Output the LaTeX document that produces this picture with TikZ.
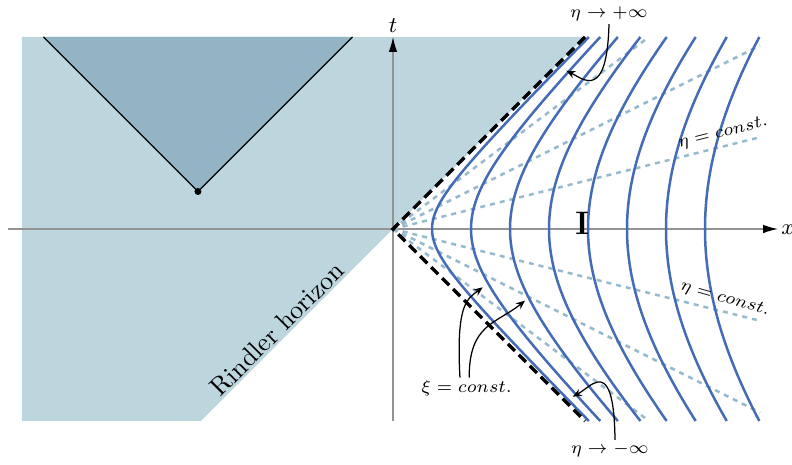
\documentclass[tikz,border=0pt]{standalone}
\usetikzlibrary{arrows.meta}
\definecolor{lightreg}{HTML}{BDD5DD}
\definecolor{darkreg}{HTML}{92B4C4}
\definecolor{curveblue}{HTML}{446CB6}
\definecolor{etablue}{HTML}{96B9CD}
\begin{document}
\begin{tikzpicture}[x=0.4pt,y=0.4pt,
  lab/.style={font=\fontsize{7.4}{9}\selectfont, inner sep=1pt},
  axislab/.style={font=\fontsize{9.5}{11}\selectfont, inner sep=1pt},
  axis/.style={draw=gray!85, line width=0.45pt, -{Latex[length=6pt,width=3.4pt,color=black]}},
  hyper/.style={draw=curveblue, line width=1pt},
  etaline/.style={draw=etablue, line width=1pt, dash pattern=on 2pt off 2pt},
  horizon/.style={draw=black, line width=1.4pt, dash pattern=on 4pt off 2.2pt, line join=miter},
  note/.style={draw=black, line width=0.5pt, -{Stealth[length=3.6pt,width=3pt]}},
]
\useasboundingbox (-393,-236) rectangle (399,229);
% shaded region t > x
\fill[lightreg] (-371,192) -- (192,192) -- (0,0) -- (-192,-192) -- (-371,-192) -- cycle;
% light cone of an event
\coordinate (ev) at (-195,37.5);
\coordinate (evl) at (-349.5,192);
\coordinate (evr) at (-40.5,192);
\fill[darkreg] (ev) -- (evl) -- (evr) -- cycle;
\draw[line width=0.5pt] (evl) -- (ev) -- (evr);
\fill (ev) circle (1.4pt);
% axes
\coordinate (xl) at (-385,0);
\coordinate (xr) at (385,0);
\coordinate (tb) at (0,-192);
\coordinate (tt) at (0,192);
\draw[axis] (xl) -- (xr);
\draw[axis] (tb) -- (tt);
\node[axislab] (tlab) at (0,203) {$t$};
\node[axislab] (xlab) at (395,-1) {$x$};
% eta = const lines
\coordinate (o) at (0,0);
\foreach \m in {0.25,0.5} {
  \draw[etaline] (o) -- (367,{367*\m});
  \draw[etaline] (o) -- (367,{-367*\m});
}
\draw[etaline] (o) -- (256,192);
\draw[etaline] (o) -- (256,-192);
% xi = const hyperbolas
\foreach \k in {1,...,8} {
  \pgfmathsetmacro\q{39*\k}
  \draw[hyper] plot[domain=-192:192, samples=97, smooth, variable=\vv] ({\q*sqrt(1+(\vv/\q)^2)}, \vv);
}
% Rindler horizon
\coordinate (hu) at (192,192);
\coordinate (hd) at (192,-192);
\draw[horizon] (hu) -- (o) -- (hd);
% labels
\node[font=\fontsize{13}{15}\selectfont\bfseries, inner sep=0pt] (reg) at (189.2,6) {I};
\node[font=\fontsize{10.4}{12}\selectfont, rotate=45] (rh) at (-116,-100) {Rindler horizon};
\node[lab, rotate=14] (etau) at (330,96) {$\eta = const.$};
\node[lab, rotate=-16] (etad) at (332,-70) {$\eta = const.$};
\node[lab] (etap) at (216,215) {$\eta\to+\infty$};
\node[lab] (etam) at (217,-221) {$\eta\to-\infty$};
\node[lab] (xil) at (73.7,-159.3) {$\xi = const.$};
% annotation arrows
\coordinate (etaptip) at (173.3,158.3);
\coordinate (etamtip) at (179.7,-167.7);
\coordinate (xitipa) at (89.7,-58.3);
\coordinate (xitipb) at (132,-71.7);
\draw[note] (etap.south) .. controls (214,128) and (190,150) .. (etaptip);
\draw[note] ([xshift=2pt]etam.north) .. controls (221,-125) and (198,-158) .. (etamtip);
\draw[note] ([xshift=-2.7pt]xil.north) .. controls (63,-75) and (74,-70) .. (xitipa);
\draw[note] ([xshift=1pt]xil.north) .. controls (76,-95) and (103,-95) .. (xitipb);
\end{tikzpicture}
\end{document}
